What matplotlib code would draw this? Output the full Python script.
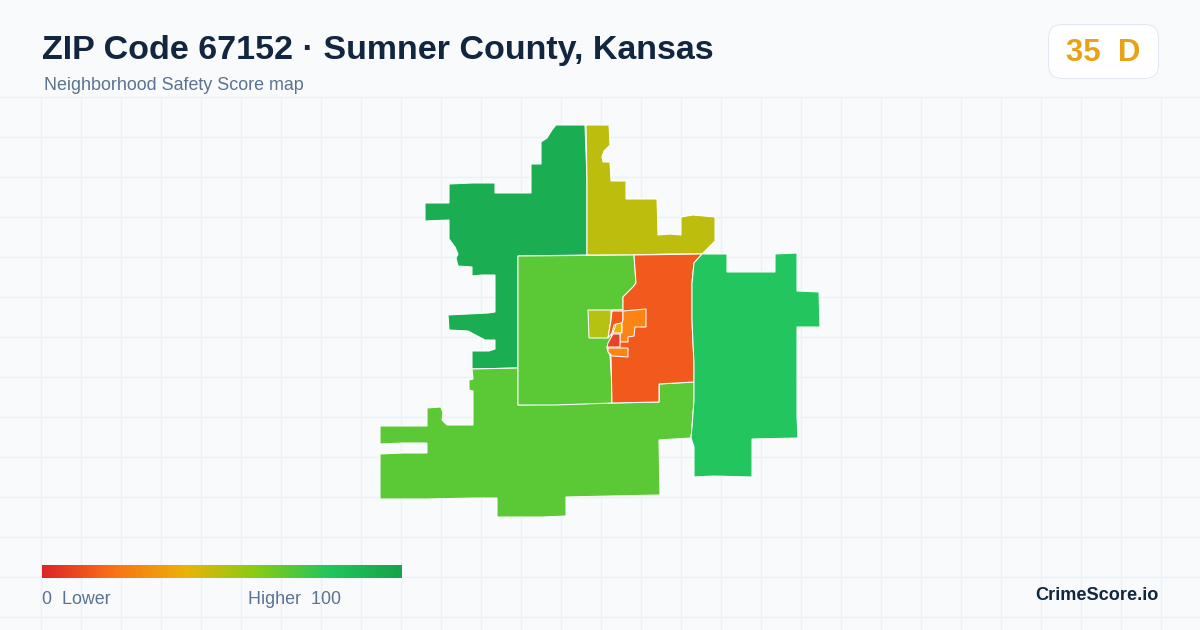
"""ZIP 67152 neighborhood safety score map card."""
import matplotlib
matplotlib.use("Agg")
import matplotlib.pyplot as plt
from matplotlib.colors import LinearSegmentedColormap
from matplotlib.patches import FancyBboxPatch, Polygon
import numpy as np

plt.rcParams['font.family'] = ['Liberation Sans', 'DejaVu Sans']

TITLE = "ZIP Code 67152 · Sumner County, Kansas"
SUBTITLE = "Neighborhood Safety Score map"
SCORE_TEXT = "35  D"
BRAND = "CrimeScore.io"

zone_nw = [(556, 125), (585, 125), (587, 180), (587, 255), (518, 256), (518, 368), (472, 369),
           (472, 351), (489, 351), (495, 349), (495, 340), (485, 340), (468, 331), (449, 330),
           (448, 315), (488, 313), (495, 312), (495, 275), (482, 275), (472, 276), (472, 267),
           (458, 266), (456, 258), (458, 254), (455, 247), (449, 239), (449, 220), (425, 221),
           (425, 203), (449, 203), (449, 184), (472, 183), (495, 183), (495, 193), (531, 193),
           (531, 164), (541, 164), (541, 142), (547, 138), (552, 130)]
zone_north = [(586, 125), (609, 125), (610, 145), (604, 151), (602, 157), (603, 162), (610, 162),
              (611, 181), (626, 181), (626, 199), (657, 199), (658, 235), (670, 234), (681, 235),
              (681, 217), (693, 215), (715, 217), (715, 241), (702, 254), (667, 254), (634, 255),
              (587, 255), (587, 180)]
zone_center = [(518, 256), (634, 255), (636, 283), (633, 287), (623, 297), (623, 310), (612, 310),
               (612, 338), (607, 348), (610, 355), (611, 370), (612, 387), (612, 403), (556, 405),
               (518, 405)]
zone_town_east = [(634, 255), (702, 254), (694, 263), (692, 283), (692, 320), (693, 343),
                  (694, 360), (694, 382), (659, 384), (659, 402), (612, 403), (611, 357),
                  (607, 348), (612, 338), (612, 310), (623, 310), (623, 297), (633, 287),
                  (636, 283)]
zone_east = [(702, 254), (727, 254), (727, 272), (775, 272), (775, 254), (797, 253), (797, 291),
             (819, 292), (820, 327), (797, 327), (797, 417), (798, 438), (752, 439), (752, 477),
             (713, 476), (694, 477), (694, 447), (691, 438), (692, 427), (694, 400), (694, 363),
             (693, 343), (692, 320), (692, 283), (694, 263)]
zone_south = [(472, 369), (518, 368), (518, 405), (612, 403), (659, 402), (659, 384), (694, 382),
              (694, 400), (692, 427), (691, 438), (674, 439), (659, 440), (660, 495), (610, 496),
              (566, 497), (566, 516), (543, 517), (497, 517), (497, 498), (473, 498), (427, 499),
              (380, 499), (380, 454), (403, 453), (427, 453), (427, 443), (403, 443), (380, 444),
              (380, 426), (427, 426), (427, 408), (441, 407), (443, 413), (442, 420), (447, 425),
              (473, 425), (473, 391), (469, 390), (469, 380), (473, 379)]
city_west = [(588, 310), (611, 310), (611, 320), (608, 338), (589, 338)]
city_north = [(612, 311), (623, 311), (623, 320), (622, 323), (614, 325), (612, 333), (608, 338),
              (611, 320)]
city_mid = [(616, 324), (622, 323), (622, 333), (613, 333)]
city_east = [(623, 311), (646, 309), (646, 327), (635, 327), (634, 336), (628, 337), (628, 342),
             (620, 342), (620, 333), (622, 333), (622, 323), (623, 320)]
city_core = [(613, 334), (620, 334), (620, 347), (607, 347), (608, 343)]
city_south = [(608, 348), (628, 348), (628, 357), (612, 356), (608, 352)]

zones = [zone_nw, zone_north, zone_south, zone_center, zone_town_east, zone_east,
         city_west, city_north, city_mid, city_east, city_core, city_south]
zone_colors = ["#1bad52", "#bdbd0d", "#5ac935", "#5ac935", "#f15a1c", "#22c55e",
               "#b5c212", "#f15a1c", "#eab308", "#fb8414", "#e8432a", "#fb8414"]

# score legend gradient
legend_stops = ["#dc2626", "#f97316", "#eab308", "#84cc16", "#22c55e", "#16a34a"]

fig = plt.figure(figsize=(12, 6.3), dpi=100, facecolor="#f8fafc")
ax = fig.add_axes([0, 0, 1, 1])
ax.set_xlim(0, 1200)
ax.set_ylim(630, 0)
ax.axis("off")

# background grid
for x in np.arange(40.5, 1200, 40):
    ax.plot([x, x], [96.5, 630], color="#ebf1f5", lw=1.0, zorder=1)
for y in np.arange(96.5, 630, 40):
    ax.plot([0, 1200], [y, y], color="#ebf1f5", lw=1.0, zorder=1)

for outline, color in zip(zones, zone_colors):
    ax.add_patch(Polygon(outline, closed=True, facecolor=color, edgecolor="white",
                         linewidth=0.75, joinstyle="miter", zorder=3))

ax.text(42, 50.5, TITLE, fontsize=24.48, fontweight="bold", color="#12263f", va="center", ha="left")
ax.text(44, 86, SUBTITLE, fontsize=12.9, color="#5b7391", va="center", ha="left")

# score badge
ax.add_patch(FancyBboxPatch((1048.5, 24.5), 110, 54, boxstyle="round,pad=0,rounding_size=14",
                            facecolor="white", edgecolor="#e2e8f0", linewidth=0.75, zorder=4))
ax.text(1103.5, 53, SCORE_TEXT, fontsize=22.4, fontweight="bold", color="#e9a215",
        va="center", ha="center", zorder=5)

# legend bar
cmap = LinearSegmentedColormap.from_list("score", legend_stops)
ax.imshow(np.linspace(0, 1, 360).reshape(1, -1), cmap=cmap, aspect="auto",
          extent=(42, 402, 578, 565), zorder=3)
ax.set_xlim(0, 1200)
ax.set_ylim(630, 0)
ax.text(42, 599, "0  Lower", fontsize=12.9, color="#5b7391", va="center", ha="left", zorder=5)
ax.text(341, 599, "Higher  100", fontsize=12.9, color="#5b7391", va="center", ha="right", zorder=5)
ax.text(1158.5, 595, BRAND, fontsize=13.07, fontweight="bold", color="#12263f",
        va="center", ha="right", zorder=5)

fig.savefig("out.png", dpi=100, facecolor=fig.get_facecolor())
